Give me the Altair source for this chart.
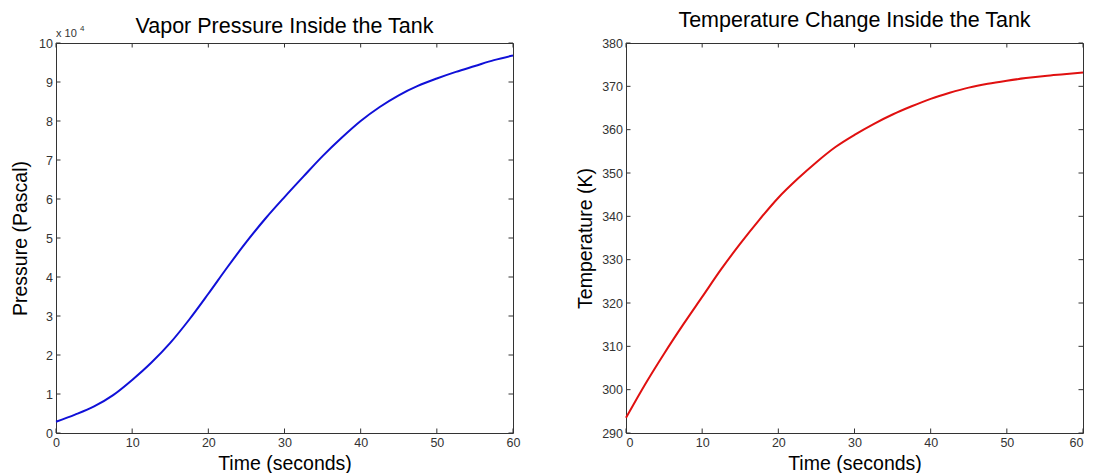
import altair as alt
import pandas as pd

# ---- data ----
time_s = [0, 2.5, 5, 7.5, 10, 12.5, 15, 17.5, 20, 22.5, 25, 27.5, 30,
          32.5, 35, 37.5, 40, 42.5, 45, 47.5, 50, 52.5, 55, 57.5, 60]
pressure_pa = [2900, 4700, 6800, 9700, 13600, 18000, 23100, 29100, 35700,
               42500, 49000, 55000, 60500, 65800, 71000, 75700, 80000,
               83600, 86600, 89000, 90900, 92600, 94100, 95600, 96800]
temperature_k = [293.5, 301.2, 308.3, 315.0, 321.4, 327.8, 333.7, 339.2,
                 344.3, 348.6, 352.5, 356.0, 358.8, 361.3, 363.5, 365.4,
                 367.1, 368.5, 369.7, 370.6, 371.3, 371.9, 372.4, 372.8,
                 373.2]
x_ticks = [0, 10, 20, 30, 40, 50, 60]
p_ticks = [0, 1, 2, 3, 4, 5, 6, 7, 8, 9, 10]
t_ticks = [290, 300, 310, 320, 330, 340, 350, 360, 370, 380]

W, H = 457, 390
FONT = "Liberation Sans"
FRAME = "#333333"
TL = 4.5

df = pd.DataFrame({"t": time_s, "p": pressure_pa, "T": temperature_k})
df["p4"] = df["p"] / 10000

x_scale = alt.Scale(domain=[0, 60], nice=False, zero=False)


def panel(yfield, yticks, ydom, ytitle, ytp, color, title, toffset, flush,
          extra=()):
    ys = alt.Scale(domain=ydom, nice=False, zero=False)
    ya = alt.Axis(values=yticks, title=ytitle, format="d", titlePadding=ytp)
    xa = alt.Axis(values=x_ticks, title="Time (seconds)", format="d",
                  labelFlush=flush, titlePadding=5)
    xe = alt.X("t:Q", scale=x_scale, axis=xa)
    ye = alt.Y(f"{yfield}:Q", scale=ys, axis=ya)
    line = alt.Chart(df).mark_line(
        color=color, strokeWidth=2, interpolate="monotone"
    ).encode(x=xe, y=ye)
    xt = pd.DataFrame({"t": x_ticks})
    yt = pd.DataFrame({yfield: yticks})
    bx = alt.Chart(xt).mark_rule(color=FRAME, strokeWidth=1)
    by = alt.Chart(yt).mark_rule(color=FRAME, strokeWidth=1)
    layers = [
        line,
        bx.encode(x=xe, y=alt.value(H), y2=alt.value(H - TL)),
        bx.encode(x=xe, y=alt.value(0), y2=alt.value(TL)),
        by.encode(y=ye, x=alt.value(0), x2=alt.value(TL)),
        by.encode(y=ye, x=alt.value(W), x2=alt.value(W - TL)),
        *extra,
    ]
    return alt.layer(*layers).properties(
        width=W, height=H,
        title=alt.TitleParams(title, frame="group", offset=toffset),
    )


one = pd.DataFrame({"k": [0]})
exp_txt = alt.Chart(one).mark_text(
    text="x 10", font=FONT, fontSize=11, color="#333333",
    align="left", baseline="alphabetic"
).encode(x=alt.value(0), y=alt.value(-6))
exp_pow = alt.Chart(one).mark_text(
    text="4", font=FONT, fontSize=8, color="#333333",
    align="left", baseline="alphabetic"
).encode(x=alt.value(24), y=alt.value(-12))

left = panel("p4", p_ticks, [0, 10], "Pressure (Pascal)", 8, "#1010d8",
             "Vapor Pressure Inside the Tank", -12, False,
             extra=(exp_txt, exp_pow))
right = panel("T", t_ticks, [290, 380], "Temperature (K)", 6, "#e01010",
              "Temperature Change Inside the Tank", 6, True)

chart = alt.hconcat(left, right, spacing=54).properties(
    padding={"left": 2, "top": 1, "right": 0, "bottom": 0}
).configure_view(
    stroke=FRAME, strokeWidth=1
).configure_axis(
    domain=False, grid=False, ticks=False, tickSize=0,
    labelFont=FONT, labelFontSize=12.5, labelColor="#333333", labelPadding=3.5,
    titleFont=FONT, titleFontSize=19.5, titleFontWeight="normal", titleColor="#000000",
    titlePadding=6,
).configure_title(
    font=FONT, fontSize=21.5, fontWeight="normal", color="#000000",
    anchor="middle",
)

chart.save("out.html", embed_options={"renderer": "svg", "actions": False})
